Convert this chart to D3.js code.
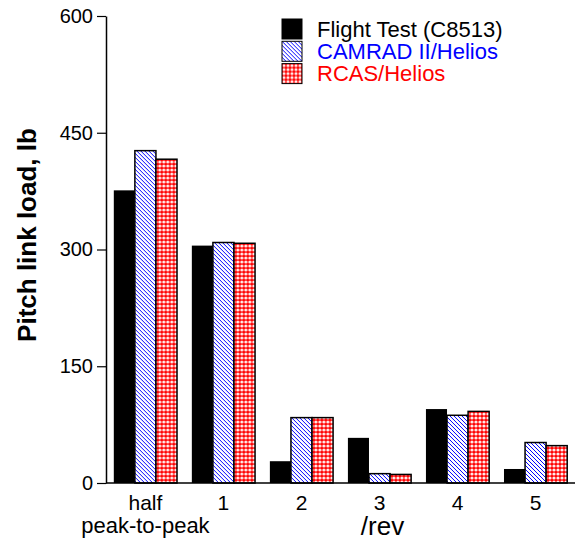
<!DOCTYPE html>
<html>
<head>
<meta charset="utf-8">
<script src="https://cdn.jsdelivr.net/npm/d3@7"></script>
<style>
  body { margin: 0; background: #fff; }
  text { font-family: Arial, "Liberation Sans", sans-serif; }
</style>
</head>
<body>
<svg id="chart" width="579" height="546"></svg>
<script>
var categories = ["half", "1", "2", "3", "4", "5"];
var seriesNames = ["Flight Test (C8513)", "CAMRAD II/Helios", "RCAS/Helios"];
var flightTest = [376, 305, 28, 58, 95, 18];
var camrad = [427, 309, 84, 12, 87, 52];
var rcas = [416, 308, 84, 11, 92, 48];
var yTicks = [0, 150, 300, 450, 600];

var margin = { top: 16, right: 4, bottom: 63, left: 106 },
    width = 579 - margin.left - margin.right,
    height = 546 - margin.top - margin.bottom;

var svg = d3.select("#chart");

// fill patterns for the two model series
var defs = svg.append("defs");
var hatch = defs.append("pattern")
    .attr("id", "hatch-blue")
    .attr("patternUnits", "userSpaceOnUse")
    .attr("width", 4).attr("height", 4);
hatch.append("rect").attr("width", 4).attr("height", 4).attr("fill", "#fff");
hatch.append("path")
    .attr("d", "M-1,-1 L5,5 M-1,3 L1,5 M3,-1 L5,1")
    .attr("stroke", "#0000ff").attr("stroke-width", 1);

var check = defs.append("pattern")
    .attr("id", "check-red")
    .attr("patternUnits", "userSpaceOnUse")
    .attr("width", 4).attr("height", 4);
check.append("rect").attr("width", 4).attr("height", 4).attr("fill", "#ff0000");
check.append("circle").attr("cx", 2).attr("cy", 2).attr("r", 1.6).attr("fill", "#ffecec");

var fills = ["#000", "url(#hatch-blue)", "url(#check-red)"];

var g = svg.append("g")
    .attr("transform", "translate(" + margin.left + "," + margin.top + ")");

var x = d3.scaleBand().domain(categories).range([0, width]).paddingInner(0.19).paddingOuter(0.1);
var x1 = d3.scaleBand().domain(d3.range(3)).range([0, x.bandwidth()]);
var y = d3.scaleLinear().domain([0, 600]).range([height, 0]);

var rows = categories.map(function(c, i) {
    return { cat: c, vals: [flightTest[i], camrad[i], rcas[i]] };
});

var groups = g.selectAll(".grp")
    .data(rows)
    .enter().append("g")
    .attr("class", "grp")
    .attr("transform", d => "translate(" + x(d.cat) + ",0)");

groups.selectAll("rect")
    .data(d => d.vals.map((v, k) => ({ k: k, v: v })))
    .enter().append("rect")
    .attr("x", d => x1(d.k))
    .attr("y", d => y(d.v))
    .attr("width", x1.bandwidth())
    .attr("height", d => height - y(d.v))
    .attr("fill", d => fills[d.k])
    .attr("stroke", d => d.k === 0 ? "none" : "#000")
    .attr("stroke-width", 1.5);

// y axis
var yAxis = g.append("g")
    .call(d3.axisLeft(y).tickValues(yTicks).tickSize(9).tickSizeOuter(0).tickPadding(4));
yAxis.select(".domain").attr("stroke-width", 1.5);
yAxis.selectAll(".tick line").attr("stroke-width", 1.2);
yAxis.selectAll("text").style("font-size", "20px").attr("fill", "#000");

// x axis line
g.append("line")
    .attr("x1", 0).attr("x2", width)
    .attr("y1", height).attr("y2", height)
    .attr("stroke", "#000").attr("stroke-width", 1.5);

g.selectAll(".xlab")
    .data(categories)
    .enter().append("text")
    .attr("class", "xlab")
    .attr("x", d => x(d) + x.bandwidth() / 2)
    .attr("y", height + 27)
    .attr("text-anchor", "middle")
    .style("font-size", "21px")
    .text(d => d);

g.append("text")
    .attr("x", x("half") + x.bandwidth() / 2)
    .attr("y", height + 50)
    .attr("text-anchor", "middle")
    .style("font-size", "22px")
    .text("peak-to-peak");

g.append("text")
    .attr("x", width / 2 + 42)
    .attr("y", height + 52)
    .attr("text-anchor", "middle")
    .style("font-size", "26px")
    .text("/rev");

// y axis title
svg.append("text")
    .attr("transform", "translate(36," + 235 + ") rotate(-90)")
    .attr("text-anchor", "middle")
    .style("font-size", "26px")
    .style("font-weight", "bold")
    .text("Pitch link load, lb");

// legend
var legend = svg.append("g").attr("transform", "translate(282,19)");
var items = legend.selectAll(".item")
    .data(seriesNames)
    .enter().append("g")
    .attr("transform", (d, i) => "translate(0," + (i * 22.3) + ")");
items.append("rect")
    .attr("width", 20).attr("height", 20)
    .attr("fill", (d, i) => fills[i])
    .attr("stroke", "#000").attr("stroke-width", 1);
items.append("text")
    .attr("x", 35).attr("y", 17.5)
    .style("font-size", "22px")
    .attr("fill", (d, i) => ["#000", "#0000ff", "#ff0000"][i])
    .text(d => d);
</script>
</body>
</html>
